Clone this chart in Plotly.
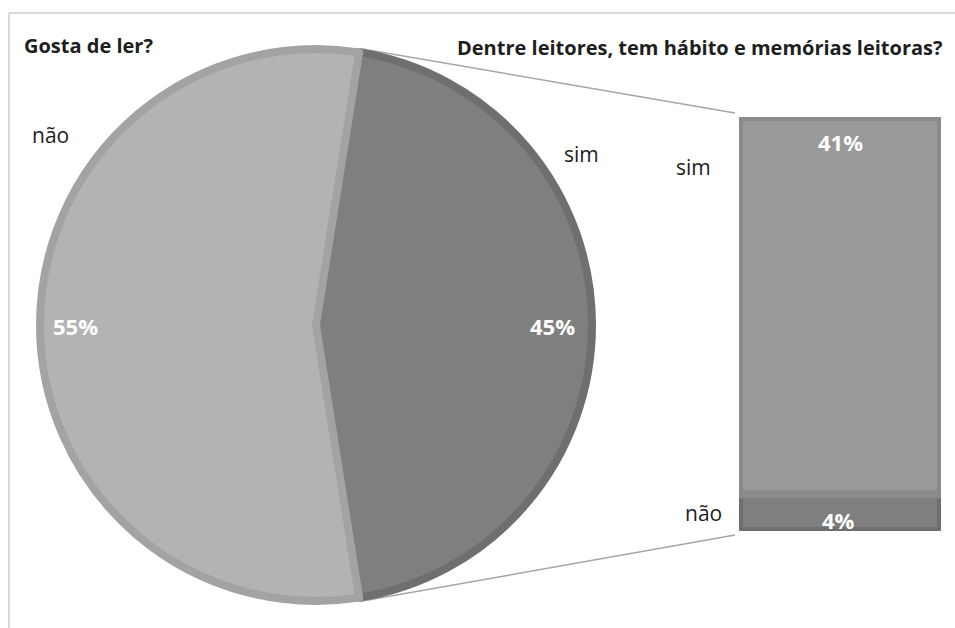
import math
import plotly.graph_objects as go

# ---- data ----
pie_labels = ["sim", "não"]
pie_values = [45, 55]
pie_fill = ["#7f7f7f", "#b3b3b3"]
pie_edge = ["#6f6f6f", "#a3a3a3"]

bar_labels = ["não", "sim"]
bar_values = [4, 41]
bar_fill = ["#7f7f7f", "#999999"]
bar_edge = ["#6f6f6f", "#8a8a8a"]

title_left = "Gosta de ler?"
title_right = "Dentre leitores, tem hábito e memórias leitoras?"

W, H = 955, 628
FONT = "Open Sans"

# ---- geometry (pixels) ----
cx, cy, R = 316, 325, 276       # pie centre/radius (stroke adds to outside)
LW = 8
rotation = 360 * pie_values[0] / sum(pie_values) / 2 * -1 + 90  # centre sim slice on 3 o'clock

bx0, bx1, by0, by1 = 739, 941, 117, 531  # bar box (inner of stroke)

fig = go.Figure()

fig.add_trace(go.Pie(
    labels=pie_labels, values=pie_values, sort=False, direction="clockwise",
    rotation=rotation, textinfo="none", hoverinfo="label+percent",
    marker=dict(colors=pie_fill, line=dict(color=pie_edge, width=LW)),
    domain=dict(x=[(cx - R) / W, (cx + R) / W], y=[(H - cy - R) / H, (H - cy + R) / H]),
    showlegend=False,
))

base = 0
for lab, v, fc, ec in zip(bar_labels, bar_values, bar_fill, bar_edge):
    fig.add_trace(go.Bar(
        x=[0], y=[v], base=[base], width=[1], name=lab,
        marker=dict(color=fc, line=dict(color=ec, width=LW)),
        showlegend=False, xaxis="x", yaxis="y",
    ))
    base += v
total_bar = sum(bar_values)

fig.update_layout(
    width=W, height=H, margin=dict(l=0, r=0, t=0, b=0),
    paper_bgcolor="white", plot_bgcolor="rgba(0,0,0,0)",
    barmode="overlay",
    xaxis=dict(domain=[bx0 / W, bx1 / W], range=[-0.5, 0.5], visible=False, fixedrange=True),
    yaxis=dict(domain=[(H - by1) / H, (H - by0) / H], range=[0, total_bar], visible=False, fixedrange=True),
)

def px(x, y):
    return x / W, 1 - y / H

# frame
fig.add_shape(type="line", xref="paper", yref="paper",
              x0=9 / W, y0=1 - 13 / H, x1=1, y1=1 - 13 / H, line=dict(color="#d9d9d9", width=2))
fig.add_shape(type="line", xref="paper", yref="paper",
              x0=9 / W, y0=1 - 13 / H, x1=9 / W, y1=0, line=dict(color="#d9d9d9", width=2))

# connector lines from sim slice edges to bar corners
Ro = R + LW / 2
a0 = math.radians(rotation)
a1 = math.radians(rotation + 360 * pie_values[0] / sum(pie_values))
p_top = (cx + Ro * math.sin(a0), cy - Ro * math.cos(a0))
p_bot = (cx + Ro * math.sin(a1), cy - Ro * math.cos(a1))
for (sx, sy), (ex, ey) in [(p_top, (bx0 - LW / 2, by0 - LW / 2)), (p_bot, (bx0 - LW / 2, by1 + LW / 2))]:
    x0, y0 = px(sx, sy)
    x1, y1 = px(ex, ey)
    fig.add_shape(type="line", xref="paper", yref="paper", x0=x0, y0=y0, x1=x1, y1=y1,
                  line=dict(color="#a6a6a6", width=1.5), layer="below")

def ann(text, x, y, size=21, color="#1e1e1e", bold=False, xanchor="center"):
    xx, yy = px(x, y)
    fig.add_annotation(text=f"<b>{text}</b>" if bold else text, xref="paper", yref="paper",
                       x=xx, y=yy, xanchor=xanchor, yanchor="middle", showarrow=False,
                       font=dict(family=FONT, size=size, color=color))

ann(title_left, 22, 45, size=20, bold=True, xanchor="left")
ann(title_right, 455, 47, size=20, bold=True, xanchor="left")

pct = [round(100 * v / sum(pie_values)) for v in pie_values]
ann("não", 50, 135)
ann("sim", 581, 154)
ann(f"{pct[1]}%", 75, 326, size=22, color="white", bold=True)
ann(f"{pct[0]}%", 552, 326, size=22, color="white", bold=True)

ann("sim", 693, 167)
ann("não", 703, 513)
ann(f"{bar_values[1]}%", 840, 142, size=22, color="white", bold=True)
ann(f"{bar_values[0]}%", 838, 520, size=22, color="white", bold=True)

fig.write_html("out.html")
